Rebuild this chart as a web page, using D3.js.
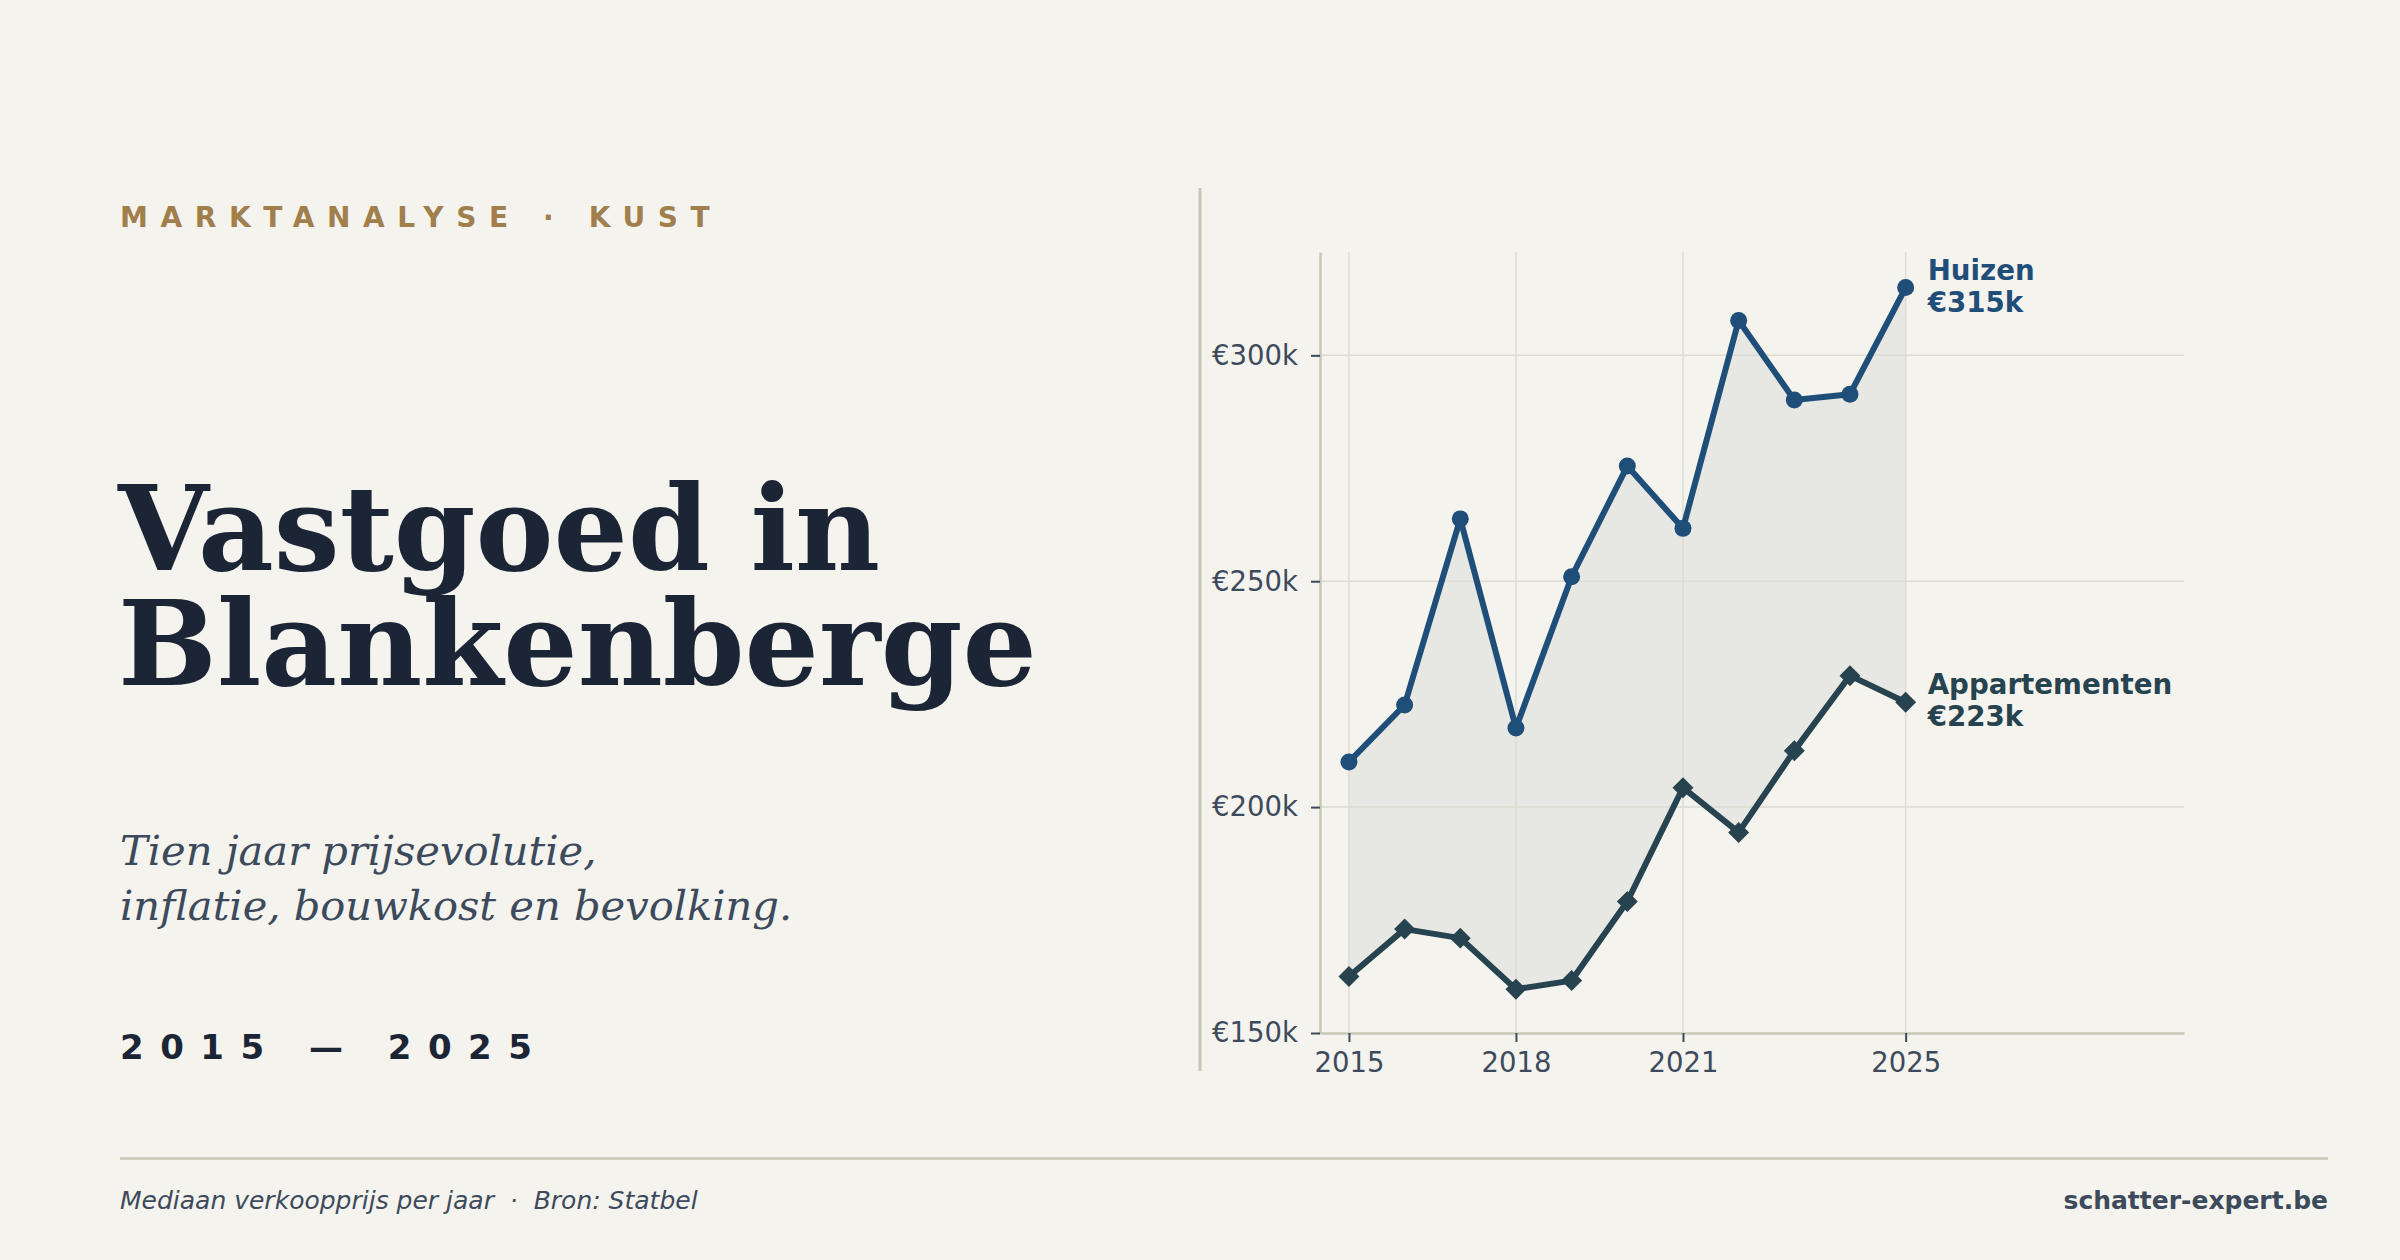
<!DOCTYPE html>
<html>
<head>
<meta charset="utf-8">
<script src="https://cdn.jsdelivr.net/npm/d3@7"></script>
<style>
  html, body { margin: 0; padding: 0; background: #f4f3ee; }
  svg { display: block; }
</style>
</head>
<body>
<div id="chart"></div>
<script>
// ---- data ----
const years = [2015, 2016, 2017, 2018, 2019, 2020, 2021, 2022, 2023, 2024, 2025];
const huizen = [210000, 222600, 263800, 217500, 251000, 275500, 261700, 307700, 290100, 291400, 315000];
const appartementen = [162500, 173000, 171000, 159700, 161600, 179100, 204300, 194400, 212500, 229100, 223200];
const xTickValues = [2015, 2018, 2021, 2025];
const yTickValues = [150000, 200000, 250000, 300000];
const seriesNames = ["Huizen", "Appartementen"];
const endLabels = ["€315k", "€223k"];

const W = 2400, H = 1260;
const bg = "#f4f3ee", dark = "#1b2535", slate = "#3d4a5c", gold = "#a07f4c";
const blue = "#1f4e79", aptColor = "#27434f", rule = "#c8c7b6", grid = "#dddbd2";

const svg = d3.select("#chart").append("svg")
  .attr("width", W).attr("height", H)
  .style("background", bg);

// ---- left text panel ----
svg.append("text")
  .attr("x", 120).attr("y", 227)
  .attr("fill", gold)
  .attr("font-family", "DejaVu Sans")
  .attr("font-weight", "bold")
  .attr("font-size", 28)
  .attr("letter-spacing", 12.6)
  .text("MARKTANALYSE · KUST");

const title = svg.append("text")
  .attr("fill", dark)
  .attr("font-family", "DejaVu Serif")
  .attr("font-weight", "bold")
  .attr("font-size", 117);
title.append("tspan").attr("x", 118).attr("y", 570).text("Vastgoed in");
title.append("tspan").attr("x", 118).attr("y", 685).text("Blankenberge");

const sub = svg.append("text")
  .attr("fill", slate)
  .attr("font-family", "DejaVu Serif")
  .attr("font-style", "italic")
  .attr("font-size", 41.6);
sub.append("tspan").attr("x", 120).attr("y", 865).text("Tien jaar prijsevolutie,");
sub.append("tspan").attr("x", 120).attr("y", 920).text("inflatie, bouwkost en bevolking.");

svg.append("text")
  .attr("x", 120).attr("y", 1059)
  .attr("fill", dark)
  .attr("font-family", "DejaVu Sans")
  .attr("font-weight", "bold")
  .attr("font-size", 34)
  .attr("letter-spacing", 16.5)
  .text(years[0] + " — " + years[years.length - 1]);

// separator
svg.append("line")
  .attr("x1", 1200).attr("x2", 1200).attr("y1", 188).attr("y2", 1071)
  .attr("stroke", rule).attr("stroke-width", 3);

// ---- chart ----
const x = d3.scaleLinear().domain([2014.48, 2030]).range([1320, 2184]);
const y = d3.scaleLinear().domain([150000, 315000 * 1.025]).range([1033, 252]);

// area between series
const band = years.map((yr, i) => ({ yr, hi: huizen[i], lo: appartementen[i] }));
svg.append("path")
  .datum(band)
  .attr("fill", "#e7e7e4")
  .attr("d", d3.area().x(d => x(d.yr)).y0(d => y(d.lo)).y1(d => y(d.hi)));

// grid
const g = svg.append("g");
g.selectAll("line.h").data(yTickValues.slice(1)).join("line")
  .attr("x1", x.range()[0]).attr("x2", x.range()[1])
  .attr("y1", d => y(d)).attr("y2", d => y(d))
  .attr("stroke", grid).attr("stroke-width", 1.5);
g.selectAll("line.v").data(xTickValues).join("line")
  .attr("x1", d => x(d)).attr("x2", d => x(d))
  .attr("y1", y.range()[1]).attr("y2", y.range()[0])
  .attr("stroke", grid).attr("stroke-width", 1.5);

// axes
const yAxis = svg.append("g")
  .attr("transform", `translate(${x.range()[0]},0)`)
  .call(d3.axisLeft(y).tickValues(yTickValues).tickSize(9).tickSizeOuter(0).tickPadding(13)
    .tickFormat(d => "€" + d3.format("d")(d / 1000) + "k"));
const xAxis = svg.append("g")
  .attr("transform", `translate(0,${y.range()[0]})`)
  .call(d3.axisBottom(x).tickValues(xTickValues).tickSize(9).tickSizeOuter(0).tickPadding(10)
    .tickFormat(d3.format("d")));
[yAxis, xAxis].forEach(a => {
  a.select(".domain").attr("stroke", rule).attr("stroke-width", 2.5);
  a.selectAll(".tick line").attr("stroke", slate).attr("stroke-width", 2);
  a.selectAll(".tick text").attr("fill", slate)
    .attr("font-family", "DejaVu Sans").attr("font-size", 27.5);
});

// lines
const seriesData = [huizen, appartementen];
const colors = [blue, aptColor];
const line = d3.line().x((d, i) => x(years[i])).y(d => y(d));
seriesData.forEach((vals, s) => {
  svg.append("path").datum(vals)
    .attr("fill", "none").attr("stroke", colors[s])
    .attr("stroke-width", 6).attr("stroke-linejoin", "round")
    .attr("d", line);
});
// markers
svg.append("g").selectAll("circle").data(huizen).join("circle")
  .attr("cx", (d, i) => x(years[i])).attr("cy", d => y(d))
  .attr("r", 8.5).attr("fill", blue);
svg.append("g").selectAll("path").data(appartementen).join("path")
  .attr("transform", (d, i) => `translate(${x(years[i])},${y(d)}) rotate(45)`)
  .attr("d", d3.symbol().type(d3.symbolSquare).size(220))
  .attr("fill", aptColor);

// end labels
seriesData.forEach((vals, s) => {
  const last = vals[vals.length - 1];
  const t = svg.append("text")
    .attr("fill", colors[s])
    .attr("font-family", "DejaVu Sans").attr("font-weight", "bold")
    .attr("font-size", 27.7);
  const lx = x(years[years.length - 1]) + 22;
  t.append("tspan").attr("x", lx).attr("y", y(last) - 8).text(seriesNames[s]);
  t.append("tspan").attr("x", lx).attr("y", y(last) + 24).text(endLabels[s]);
});

// ---- footer ----
svg.append("line")
  .attr("x1", 120).attr("x2", 2328).attr("y1", 1158.5).attr("y2", 1158.5)
  .attr("stroke", rule).attr("stroke-width", 2.5);
svg.append("text")
  .attr("x", 120).attr("y", 1209)
  .attr("fill", slate)
  .attr("font-family", "DejaVu Sans").attr("font-style", "italic")
  .attr("font-size", 25)
  .style("white-space", "pre")
  .text("Mediaan verkoopprijs per jaar  ·  Bron: Statbel");
svg.append("text")
  .attr("x", 2328).attr("y", 1209)
  .attr("text-anchor", "end")
  .attr("fill", slate)
  .attr("font-family", "DejaVu Sans").attr("font-weight", "bold")
  .attr("font-size", 25)
  .text("schatter-expert.be");
</script>
</body>
</html>
